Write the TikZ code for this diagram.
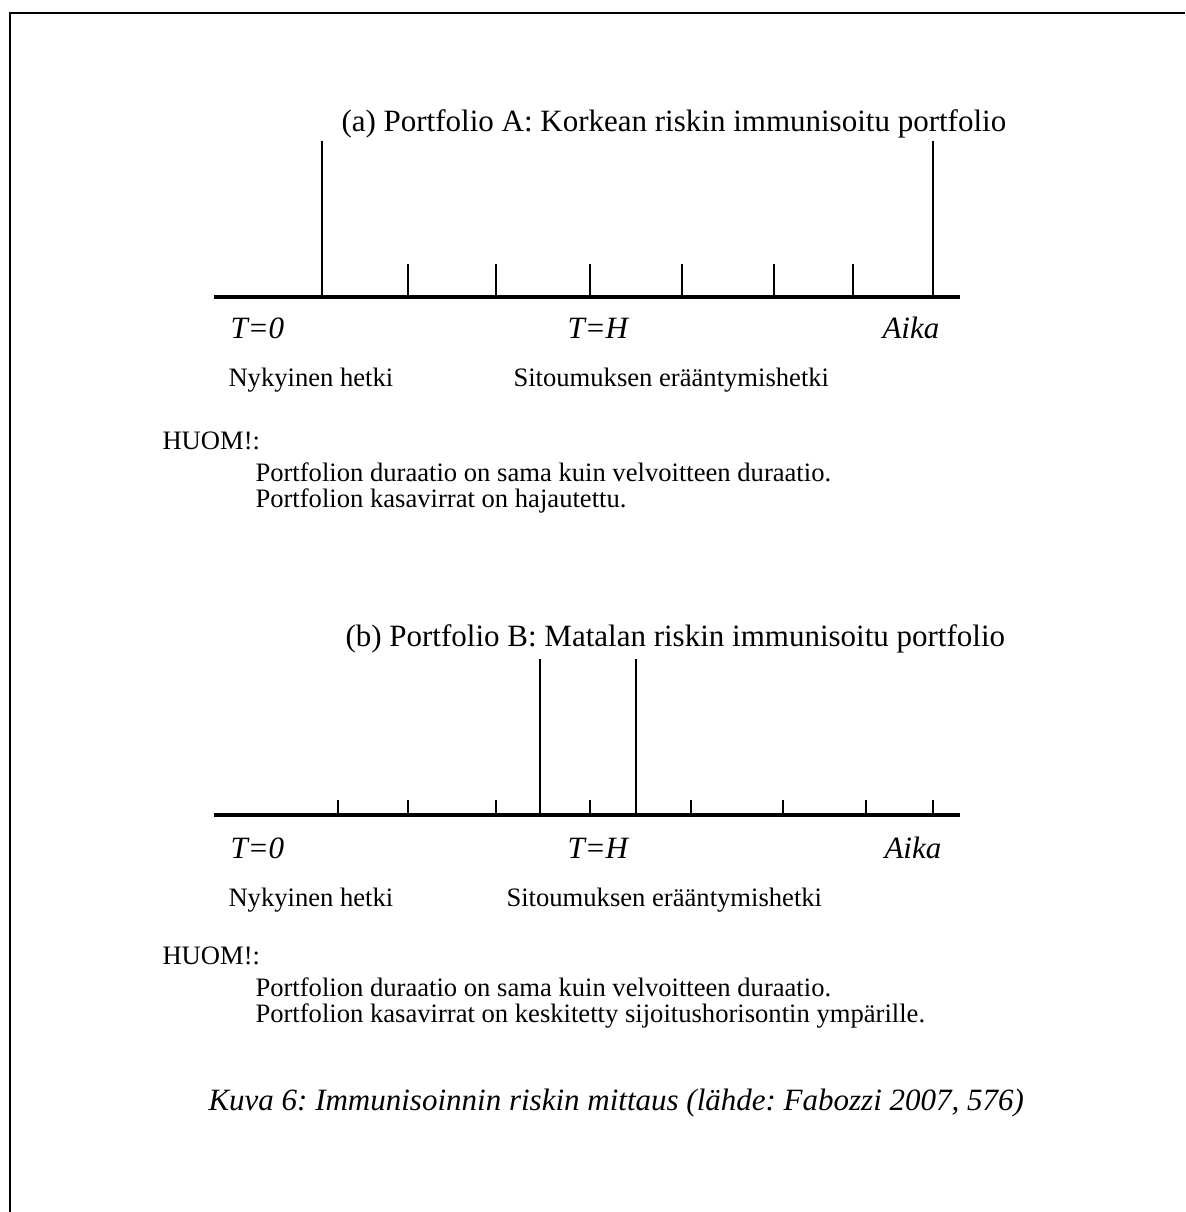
\documentclass[tikz,border=0pt]{standalone}
\usepackage{fontspec}
\setmainfont{Liberation Serif}
\frenchspacing
\tikzset{
  axisline/.style={line width=1.2pt},
  tickline/.style={line width=0.75pt},
  txt/.style={anchor=base west,inner sep=0pt,font=\fontsize{12}{14}\selectfont},
  smalltxt/.style={anchor=base west,inner sep=0pt,font=\fontsize{10.3}{12}\selectfont}
}
\begin{document}
\begin{tikzpicture}[x=0.3871pt,y=-0.3871pt]
\useasboundingbox (0,0) rectangle (1185,1212);
\draw[line width=0.8pt] (10,1212) -- (10,13) -- (1185,13);
% (a)
\node[txt] (titleA) at (341,132) {(a) Portfolio A: Korkean riskin immunisoitu portfolio};
\draw[axisline] (214,297) -- (960,297);
\draw[tickline] (322,297) -- (322,141);
\draw[tickline] (933,297) -- (933,141);
\draw[tickline] (408,297) -- (408,264);
\draw[tickline] (496,297) -- (496,264);
\draw[tickline] (590,297) -- (590,264);
\draw[tickline] (682,297) -- (682,264);
\draw[tickline] (774,297) -- (774,264);
\draw[tickline] (853,297) -- (853,264);
\node[txt] (zeroA) at (230,339) {\textit{T=0}};
\node[txt] (hA) at (567,339) {\textit{T=H}};
\node[txt] (aikaA) at (882,339) {\textit{Aika}};
\node[smalltxt] (nowA) at (228,387) {Nykyinen hetki};
\node[smalltxt] (dueA) at (513,387) {Sitoumuksen erääntymishetki};
\node[smalltxt] (huomA) at (162,449) {HUOM!:};
\node[smalltxt] (noteA1) at (255,481) {Portfolion duraatio on sama kuin velvoitteen duraatio.};
\node[smalltxt] (noteA2) at (255,507) {Portfolion kasavirrat on hajautettu.};
% (b)
\node[txt] (titleB) at (345,646) {(b) Portfolio B: Matalan riskin immunisoitu portfolio};
\draw[axisline] (214,815) -- (960,815);
\draw[tickline] (540,815) -- (540,659);
\draw[tickline] (636,815) -- (636,659);
\draw[tickline] (338,815) -- (338,800);
\draw[tickline] (408,815) -- (408,800);
\draw[tickline] (496,815) -- (496,800);
\draw[tickline] (590,815) -- (590,800);
\draw[tickline] (691,815) -- (691,800);
\draw[tickline] (783,815) -- (783,800);
\draw[tickline] (866,815) -- (866,800);
\draw[tickline] (933,815) -- (933,800);
\node[txt] (zeroB) at (230,858) {\textit{T=0}};
\node[txt] (hB) at (567,858) {\textit{T=H}};
\node[txt] (aikaB) at (884,858) {\textit{Aika}};
\node[smalltxt] (nowB) at (228,906) {Nykyinen hetki};
\node[smalltxt] (dueB) at (506,906) {Sitoumuksen erääntymishetki};
\node[smalltxt] (huomB) at (162,964) {HUOM!:};
\node[smalltxt] (noteB1) at (255,996) {Portfolion duraatio on sama kuin velvoitteen duraatio.};
\node[smalltxt] (noteB2) at (255,1022) {Portfolion kasavirrat on keskitetty sijoitushorisontin ympärille.};
% caption
\node[txt] (caption) at (208,1110) {\textit{Kuva 6: Immunisoinnin riskin mittaus (lähde: Fabozzi 2007, 576)}};
\end{tikzpicture}
\end{document}
